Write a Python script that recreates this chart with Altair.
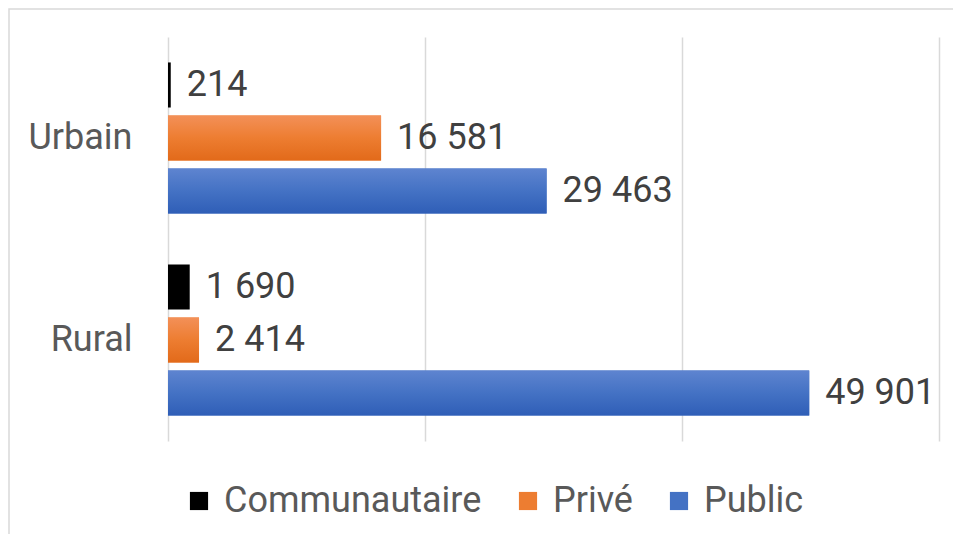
import altair as alt
import pandas as pd

categories = ["Urbain", "Urbain", "Urbain", "Rural", "Rural", "Rural"]
series = ["Communautaire", "Privé", "Public", "Communautaire", "Privé", "Public"]
values = [214, 16581, 29463, 1690, 2414, 49901]

cat_order = ["Urbain", "Rural"]
series_order = ["Communautaire", "Privé", "Public"]
series_colors = ["#000000", "#ED7D31", "#4472C4"]
gradient_stops = {
    "Privé": ["#F39058", "#ED7D31", "#E26A1A"],
    "Public": ["#5E84D0", "#4472C4", "#2F5EB7"],
}
x_ticks = [0, 20000, 40000, 60000]

df = pd.DataFrame({"cat": categories, "series": series, "value": values})
df["label"] = [f"{v:,}".replace(",", " ") for v in values]

FONT = "Roboto"
W, H = 771, 404

y_enc = alt.Y("cat:N", sort=cat_order, title=None,
              scale=alt.Scale(paddingInner=0, paddingOuter=0),
              axis=alt.Axis(domain=False, ticks=False, labelFont=FONT,
                            labelFontSize=36, labelColor="#595959",
                            labelPadding=36))
yoff = alt.YOffset("series:N", sort=series_order,
                   scale=alt.Scale(paddingInner=0.15, paddingOuter=0.48))
x_enc = alt.X("value:Q", title=None,
              scale=alt.Scale(domain=[0, 60000], nice=False),
              axis=alt.Axis(values=x_ticks, labels=False, ticks=False,
                            domain=False, grid=True, gridColor="#d9d9d9",
                            gridWidth=1.5))

bars = alt.Chart(df).mark_bar().encode(
    y=y_enc, yOffset=yoff, x=x_enc,
    color=alt.Color("series:N", sort=series_order,
                    scale=alt.Scale(domain=series_order, range=series_colors),
                    legend=alt.Legend(title=None, orient="none",
                                      direction="horizontal",
                                      legendX=13, legendY=446,
                                      symbolType="square", symbolSize=330,
                                      symbolStrokeWidth=0, labelLimit=0,
                                      labelFont=FONT, labelFontSize=36,
                                      labelColor="#595959", labelOffset=7,
                                      columnPadding=28)),
)

grad_layers = []
for s, stops in gradient_stops.items():
    grad = alt.Gradient(
        gradient="linear", x1=0, y1=0, x2=0, y2=1,
        stops=[alt.GradientStop(color=stops[0], offset=0),
               alt.GradientStop(color=stops[1], offset=0.5),
               alt.GradientStop(color=stops[2], offset=1)])
    grad_layers.append(
        alt.Chart(df).transform_filter(alt.datum.series == s)
        .mark_bar(fill=grad).encode(
            y=alt.Y("cat:N", sort=cat_order), yOffset=yoff,
            x=alt.X("value:Q"))
    )

labels = alt.Chart(df).mark_text(
    align="left", baseline="middle", dx=16, font=FONT, fontSize=36,
    color="#404040",
).encode(y=alt.Y("cat:N", sort=cat_order), yOffset=yoff,
         x=alt.X("value:Q"), text="label:N")

frame = alt.Chart(pd.DataFrame({"a": [0]})).mark_rect(
    fillOpacity=0, stroke="#d9d9d9", strokeWidth=1.5,
).encode(x=alt.value(-159), x2=alt.value(W + 200), y=alt.value(-28),
         y2=alt.value(H + 200))

chart = alt.layer(frame, bars, *grad_layers, labels).properties(
    width=W, height=H, background="white",
    padding={"left": 160, "top": 29, "right": 14, "bottom": 93},
    autosize=alt.AutoSizeParams(type="none"),
).configure_view(stroke=None)

chart.save("out.html", embed_options={"renderer": "svg", "actions": False})
